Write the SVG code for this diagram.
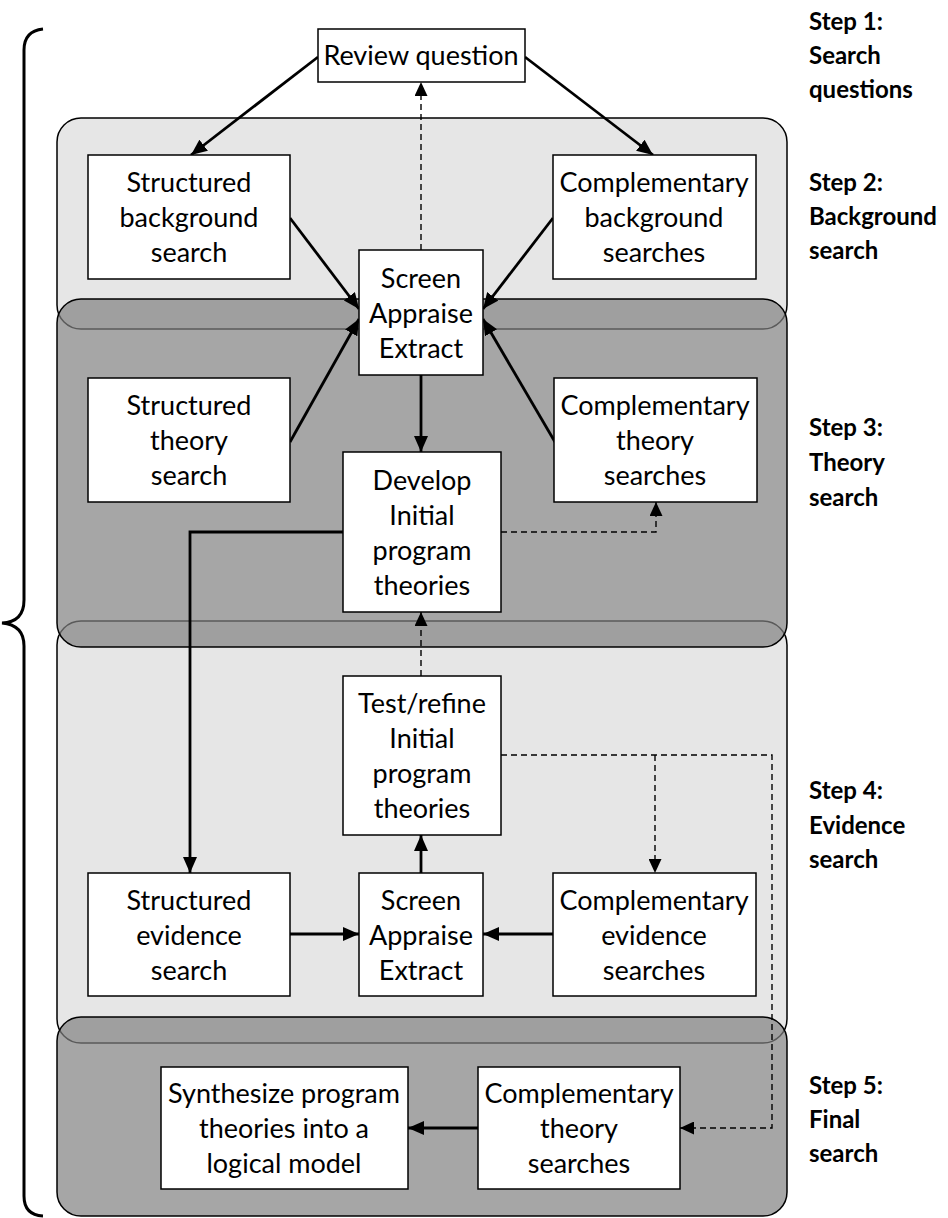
<svg xmlns="http://www.w3.org/2000/svg" width="948" height="1218" viewBox="0 0 948 1218">
<defs>
<style>
.band-light{fill:#e6e6e6;stroke:#000;stroke-width:1.5}
.band-dark{fill:#808080;fill-opacity:0.7;stroke:#000;stroke-width:1.5}
.box{fill:#fff;stroke:#000;stroke-width:1.5}
.t{font-family:Lato,"Liberation Sans",sans-serif;font-size:27px;fill:#000;text-anchor:middle}
.step{font-family:Lato,"Liberation Sans",sans-serif;font-size:24px;font-weight:bold;fill:#000}
.solid{fill:none;stroke:#000;stroke-width:2.8;marker-end:url(#ah)}
.dash{fill:none;stroke:#000;stroke-width:1.4;stroke-dasharray:6,4;marker-end:url(#ahd)}
</style>
<marker id="ah" markerUnits="userSpaceOnUse" markerWidth="16" markerHeight="14" refX="16" refY="7" orient="auto">
<path d="M0,0 L16,7 L0,14 z" fill="#000"/>
</marker>
<marker id="ahd" markerUnits="userSpaceOnUse" markerWidth="14" markerHeight="13" refX="14" refY="6.5" orient="auto">
<path d="M0,0 L14,6.5 L0,13 z" fill="#000"/>
</marker>
</defs>

<g id="bands">
<rect class="band-light" x="57" y="118" width="730" height="211" rx="24"/>
<rect class="band-light" x="57" y="621" width="730" height="422" rx="24"/>
<rect class="band-dark" x="57" y="299" width="730" height="348" rx="24"/>
<rect class="band-dark" x="57" y="1017" width="730" height="199" rx="24"/>
</g>

<g id="brace">
<path d="M43,29 Q24,31 24,50 L24,600 Q24,622 2,623 Q24,625 24,646 L24,1196 Q24,1215 43,1216" fill="none" stroke="#000" stroke-width="3"/>
</g>

<g id="connectors">
<path class="solid" d="M318,57 L191,155"/>
<path class="solid" d="M525,57 L653,155"/>
<path class="dash" d="M421,250 L421,82"/>
<path class="solid" d="M290,218 L359,309"/>
<path class="solid" d="M553,218 L483,309"/>
<path class="solid" d="M290,442 L359,319"/>
<path class="solid" d="M555,442 L483,319"/>
<path class="solid" d="M421,375 L421,452"/>
<path class="solid" d="M343,532 L190,532 L190,873"/>
<path class="dash" d="M501,532 L656,532 L656,502"/>
<path class="dash" d="M421,676 L421,612"/>
<path class="solid" d="M421,873 L421,835"/>
<path class="solid" d="M290,934 L359,934"/>
<path class="solid" d="M553,934 L483,934"/>
<path class="dash" d="M501,755 L772,755 L772,1128 L680,1128"/>
<path class="dash" d="M655,755 L655,873"/>
<path class="solid" d="M478,1128 L408,1128"/>
</g>

<g id="n-review">
<rect class="box" x="318" y="29" width="207" height="53"/>
<text class="t" x="421" y="65">Review question</text>
</g>
<g id="n-struct-bg">
<rect class="box" x="88" y="155" width="202" height="124"/>
<text class="t" x="189" y="192">Structured</text>
<text class="t" x="189" y="227">background</text>
<text class="t" x="189" y="262">search</text>
</g>
<g id="n-comp-bg">
<rect class="box" x="553" y="155" width="203" height="124"/>
<text class="t" x="654" y="192">Complementary</text>
<text class="t" x="654" y="227">background</text>
<text class="t" x="654" y="262">searches</text>
</g>
<g id="n-screen1">
<rect class="box" x="359" y="250" width="124" height="125"/>
<text class="t" x="421" y="288">Screen</text>
<text class="t" x="421" y="323">Appraise</text>
<text class="t" x="421" y="358">Extract</text>
</g>
<g id="n-struct-th">
<rect class="box" x="88" y="378" width="202" height="124"/>
<text class="t" x="189" y="415">Structured</text>
<text class="t" x="189" y="450">theory</text>
<text class="t" x="189" y="485">search</text>
</g>
<g id="n-comp-th">
<rect class="box" x="554" y="378" width="203" height="124"/>
<text class="t" x="655" y="415">Complementary</text>
<text class="t" x="655" y="450">theory</text>
<text class="t" x="655" y="485">searches</text>
</g>
<g id="n-develop">
<rect class="box" x="343" y="452" width="158" height="160"/>
<text class="t" x="422" y="490">Develop</text>
<text class="t" x="422" y="525">Initial</text>
<text class="t" x="422" y="560">program</text>
<text class="t" x="422" y="595">theories</text>
</g>
<g id="n-test">
<rect class="box" x="343" y="676" width="158" height="159"/>
<text class="t" x="422" y="713">Test/refine</text>
<text class="t" x="422" y="748">Initial</text>
<text class="t" x="422" y="783">program</text>
<text class="t" x="422" y="818">theories</text>
</g>
<g id="n-struct-ev">
<rect class="box" x="88" y="873" width="202" height="123"/>
<text class="t" x="189" y="910">Structured</text>
<text class="t" x="189" y="945">evidence</text>
<text class="t" x="189" y="980">search</text>
</g>
<g id="n-screen2">
<rect class="box" x="359" y="873" width="124" height="123"/>
<text class="t" x="421" y="910">Screen</text>
<text class="t" x="421" y="945">Appraise</text>
<text class="t" x="421" y="980">Extract</text>
</g>
<g id="n-comp-ev">
<rect class="box" x="553" y="873" width="203" height="123"/>
<text class="t" x="654" y="910">Complementary</text>
<text class="t" x="654" y="945">evidence</text>
<text class="t" x="654" y="980">searches</text>
</g>
<g id="n-synth">
<rect class="box" x="161" y="1067" width="247" height="122"/>
<text class="t" x="284" y="1103">Synthesize program</text>
<text class="t" x="284" y="1138">theories into a</text>
<text class="t" x="284" y="1173">logical model</text>
</g>
<g id="n-comp-final">
<rect class="box" x="478" y="1067" width="202" height="122"/>
<text class="t" x="579" y="1103">Complementary</text>
<text class="t" x="579" y="1138">theory</text>
<text class="t" x="579" y="1173">searches</text>
</g>

<g id="labels">
<text class="step" x="809" y="30">Step 1:</text>
<text class="step" x="809" y="64">Search</text>
<text class="step" x="809" y="98">questions</text>
<text class="step" x="809" y="191">Step 2:</text>
<text class="step" x="809" y="225">Background</text>
<text class="step" x="809" y="259">search</text>
<text class="step" x="809" y="436">Step 3:</text>
<text class="step" x="809" y="471">Theory</text>
<text class="step" x="809" y="506">search</text>
<text class="step" x="809" y="799">Step 4:</text>
<text class="step" x="809" y="834">Evidence</text>
<text class="step" x="809" y="868">search</text>
<text class="step" x="809" y="1094">Step 5:</text>
<text class="step" x="809" y="1128">Final</text>
<text class="step" x="809" y="1162">search</text>
</g>
</svg>
